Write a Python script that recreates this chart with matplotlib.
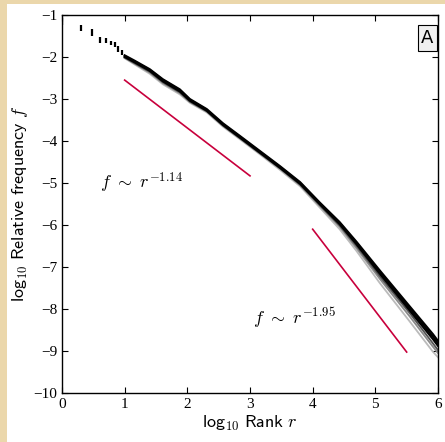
import numpy as np
import matplotlib.pyplot as plt
from matplotlib.patches import Rectangle

plt.rcParams['mathtext.fontset'] = 'cm'

# discrete top ranks (r = 1..9): spread between curves
top_x = [0.0, 0.30, 0.48, 0.60, 0.70, 0.78, 0.85, 0.90, 0.95]
top_hi = [-1.07, -1.24, -1.33, -1.52, -1.54, -1.62, -1.64, -1.74, -1.83]
top_lo = [-1.24, -1.38, -1.50, -1.67, -1.67, -1.71, -1.76, -1.88, -1.95]

# rank-frequency curves (log10 rank, log10 frequency)
curve_x = [1.00, 1.15, 1.40, 1.61, 1.88, 2.04, 2.31, 2.57, 2.84, 3.16, 3.48, 3.80, 4.11, 4.43, 4.70, 5.07, 5.55, 5.92, 6.00]
curve_a = [-1.98, -2.10, -2.31, -2.55, -2.79, -3.02, -3.26, -3.60, -3.90, -4.26, -4.62, -5.00, -5.48, -5.95, -6.43, -7.12, -7.99, -8.66, -8.82]
curve_b = [-2.00, -2.12, -2.33, -2.58, -2.82, -3.04, -3.28, -3.62, -3.92, -4.28, -4.64, -5.02, -5.50, -5.98, -6.46, -7.16, -8.04, -8.72, -8.88]
curve_c = [-1.96, -2.08, -2.29, -2.53, -2.77, -3.00, -3.24, -3.58, -3.88, -4.24, -4.60, -4.98, -5.46, -5.93, -6.40, -7.08, -7.94, -8.60, -8.76]
curve_g1 = [-2.02, -2.15, -2.37, -2.62, -2.86, -3.07, -3.30, -3.64, -3.94, -4.30, -4.66, -5.05, -5.54, -6.04, -6.55, -7.28, -8.18, -8.90, -9.05]
curve_g2 = [-2.01, -2.14, -2.35, -2.60, -2.84, -3.06, -3.29, -3.63, -3.93, -4.29, -4.65, -5.04, -5.52, -6.01, -6.50, -7.22, -8.10, -8.82, -8.98]
curve_g3 = [-2.03, -2.17, -2.40, -2.65, -2.89, -3.09, -3.32, -3.66, -3.96, -4.32, -4.69, -5.08, -5.58, -6.10, -6.62, -7.38, -8.30, -9.02, -9.15]

# fitted power laws: (x0, x1, y0, slope)
fit1 = [1.0, 3.0, -2.55, -1.14]
fit2 = [4.0, 5.5, -6.10, -1.95]

fig = plt.figure(figsize=(4.45, 4.42), dpi=100)
fig.patch.set_facecolor('#ebd7ab')
fig.patches.append(Rectangle((7 / 445, 0), 1, 1 - 4 / 442, transform=fig.transFigure,
                             facecolor='white', edgecolor='none', zorder=-1))

ax = fig.add_axes([62 / 445, 1 - 393 / 442, 376 / 445, 378 / 442])

ax.vlines(top_x, top_lo, top_hi, color='black', lw=1.6)
for ys, col in [(curve_g3, '#bbbbbb'), (curve_g1, '#8a8a8a'), (curve_g2, '#555555')]:
    ax.plot(curve_x, ys, color=col, lw=1.3)
for ys in [curve_b, curve_c, curve_a]:
    ax.plot(curve_x, ys, color='black', lw=1.5)

for x0, x1, y0, s in [fit1, fit2]:
    ax.plot([x0, x1], [y0, y0 + s * (x1 - x0)], color='#c8003c', lw=1.2)

ax.text(0.61, -5.0, r'$f\ \sim\ r^{-1.14}$', fontsize=13, va='center')
ax.text(3.04, -8.2, r'$f\ \sim\ r^{-1.95}$', fontsize=13, va='center')
ax.text(5.83, -1.55, 'A', fontsize=13, ha='center', va='center',
        bbox=dict(boxstyle='square,pad=0.2', facecolor='#f0f0f0', edgecolor='black', lw=0.8))

ax.set_xlim(0, 6)
ax.set_ylim(-10, -1)
ax.set_xticks(range(0, 7))
ax.set_yticks(range(-10, 0))
ax.tick_params(direction='in', top=True, right=True, length=4, width=0.8, labelsize=11)
for lab in ax.get_xticklabels() + ax.get_yticklabels():
    lab.set_family('Liberation Serif')
for sp in ax.spines.values():
    sp.set_linewidth(1.0)

ax.set_xlabel(r'$\mathsf{log}_{10}\ \mathsf{Rank}\ r$', fontsize=13, labelpad=2)
ax.set_ylabel(r'$\mathsf{log}_{10}\ \mathsf{Relative\ frequency}\ f$', fontsize=13, labelpad=2)

fig.savefig('out.png', dpi=100, facecolor=fig.get_facecolor())
